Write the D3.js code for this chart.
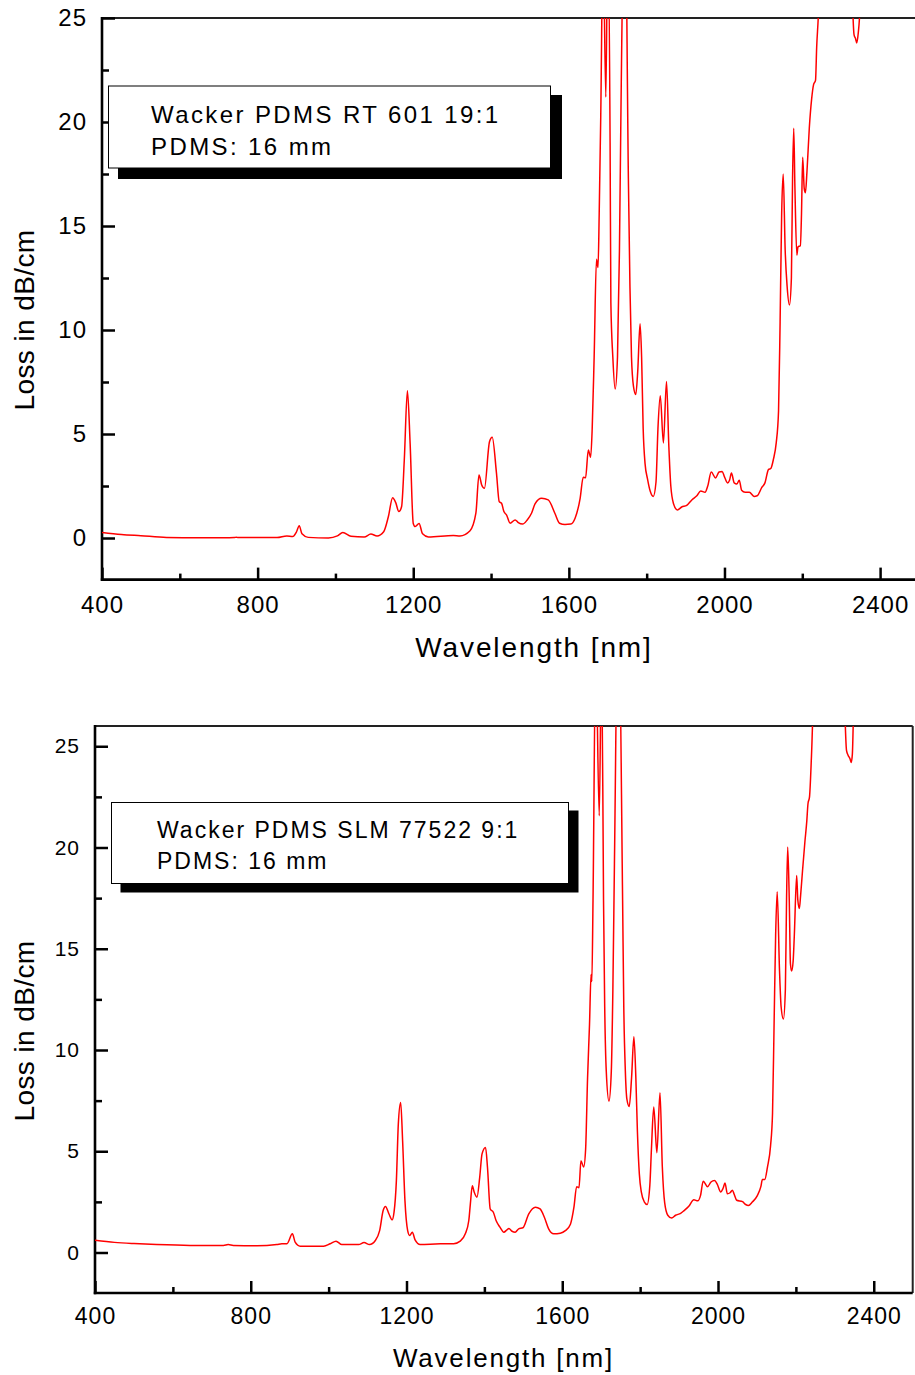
<!DOCTYPE html>
<html>
<head>
<meta charset="utf-8">
<script src="https://cdn.jsdelivr.net/npm/d3@7"></script>
<style>
  body { margin: 0; background: #fff; }
  svg { display: block; }
  text { font-family: "Liberation Sans", Arial, Helvetica, sans-serif; fill: #000; }
</style>
</head>
<body>
<svg id="chart" width="915" height="1375"></svg>
<script>
// ---------- DATA ----------
// Panel 1: Wacker PDMS RT 601 19:1
const wavelength1 = [400,450,500,566,650,740,745,750,850,875,890,900,907,914,930,982,1005,1019,1040,1074,1091,1107,1124,1136,1147,1155,1163,1170,1177,1185,1192,1200,1205,1215,1224,1239,1303,1320,1346,1361,1369,1376,1383,1396,1403,1414,1421,1427,1433,1440,1449,1462,1470,1481,1493,1504,1513,1530,1547,1564,1576,1590,1605,1616,1629,1637,1643,1650,1656,1660,1665,1671,1675,1678,1682,1688,1695,1700,1706,1708,1713,1719,1725,1730,1734,1744,1753,1757,1761,1766,1772,1777,1783,1787,1791,1796,1802,1809,1817,1824,1829,1835,1843,1851,1857,1862,1869,1879,1890,1903,1916,1929,1939,1950,1957,1966,1977,1986,1994,2000,2008,2013,2018,2025,2032,2038,2044,2053,2064,2076,2084,2096,2104,2113,2119,2126,2133,2139,2143,2147,2151,2156,2161,2167,2172,2175,2178,2181,2186,2189,2195,2198,2201,2205,2208,2212,2218,2224,2229,2234,2237,2241,2250,2300,2325,2333,2337,2340,2344,2347,2355,2400,2500];
const loss1 = [0.27,0.17,0.11,0.03,0.01,0.02,0.04,0.02,0.02,0.1,0.07,0.3,0.59,0.2,0.03,0.0,0.1,0.26,0.08,0.05,0.19,0.1,0.3,1.02,1.94,1.7,1.27,1.5,3.75,7.08,4.55,0.7,0.55,0.7,0.2,0.05,0.12,0.1,0.35,1.19,3.03,2.55,2.39,4.63,4.84,3.11,1.75,1.67,1.27,1.1,0.71,0.87,0.74,0.67,0.87,1.19,1.64,1.91,1.83,1.19,0.71,0.65,0.67,0.95,1.91,2.92,2.9,4.23,3.88,5.26,8.7,13.4,13.0,15.6,20.3,29,21.2,29,19,11.3,8.7,7.16,8.7,13.8,20.7,32,17.3,12.1,8.7,7.3,6.9,8.0,10.3,8.7,5.26,3.55,2.86,2.26,2.0,2.69,5.26,6.84,4.57,7.53,4.4,2.51,1.65,1.35,1.49,1.57,1.83,2.03,2.26,2.2,2.5,3.17,2.89,3.17,3.2,2.94,2.65,2.78,3.12,2.65,2.6,2.78,2.3,2.2,2.2,2.0,2.03,2.43,2.65,3.29,3.34,3.8,4.57,6.12,10.4,15.6,17.5,13.85,12.1,11.2,12.5,17.3,19.7,16.9,13.6,14.0,14.05,15.6,18.3,16.8,16.6,17.6,19.7,21.1,21.8,22.0,23.6,25,30,34,28,24.2,24.0,23.8,24.3,25,30,35,40];

// Panel 2: Wacker PDMS SLM 77522 9:1
const wavelength2 = [400,450,500,558,644,730,742,755,816,867,880,893,907,914,927,987,1004,1019,1034,1077,1091,1105,1120,1131,1140,1146,1155,1163,1168,1174,1179,1185,1190,1196,1203,1208,1215,1222,1235,1287,1321,1338,1351,1360,1364,1369,1374,1381,1388,1394,1403,1408,1415,1423,1430,1440,1450,1458,1463,1471,1479,1488,1499,1514,1531,1543,1554,1565,1578,1595,1608,1621,1630,1637,1643,1648,1655,1660,1665,1670,1674,1676,1679,1686,1695,1701,1706,1709,1713,1720,1726,1730,1734,1744,1755,1758,1762,1766,1772,1778,1784,1789,1793,1798,1803,1811,1818,1825,1829,1835,1843,1851,1857,1863,1871,1881,1891,1904,1913,1925,1938,1948,1955,1962,1973,1982,1991,1998,2007,2013,2018,2024,2031,2037,2041,2048,2063,2071,2078,2088,2101,2110,2114,2120,2127,2135,2140,2144,2148,2152,2158,2162,2168,2173,2176,2179,2183,2186,2189,2193,2196,2202,2205,2209,2212,2217,2223,2228,2231,2235,2240,2250,2300,2322,2330,2334,2339,2342,2345,2352,2400,2500];
const loss2 = [0.6,0.5,0.44,0.39,0.35,0.35,0.39,0.35,0.33,0.39,0.43,0.43,0.92,0.51,0.31,0.31,0.43,0.56,0.39,0.39,0.49,0.39,0.59,1.08,2.07,2.27,1.9,1.61,1.99,3.55,6.35,7.41,5.52,2.56,1.08,0.84,1.0,0.62,0.39,0.43,0.43,0.56,0.92,1.58,2.4,3.3,2.97,2.73,3.71,4.87,5.19,4.2,2.15,1.99,1.58,1.25,1.0,1.12,1.18,1.05,1.0,1.17,1.22,1.91,2.24,2.15,1.74,1.17,0.92,0.95,1.08,1.4,2.24,3.25,3.2,4.53,4.22,5.1,8.63,11.26,13.73,13.38,17.4,30,21.57,30,17.4,12.15,8.97,7.48,8.97,13.0,19.2,33,17.4,12.15,8.97,7.57,7.21,8.63,10.65,8.63,5.98,3.87,2.99,2.49,2.37,3.34,5.1,7.18,4.93,7.89,4.22,2.46,1.84,1.7,1.84,1.93,2.07,2.28,2.6,2.55,2.81,3.52,3.25,3.48,3.55,3.38,2.99,3.17,3.43,2.9,2.95,3.08,2.9,2.58,2.51,2.37,2.32,2.49,2.81,3.25,3.6,3.6,4.22,5.28,6.86,11.26,15.67,17.82,13.9,12.15,11.53,13.0,17.4,20.03,17.4,14.26,13.9,14.4,15.67,18.62,17.4,16.99,17.6,18.84,20.25,21.3,22.15,22.5,24.5,30,34,29,24.8,24.56,24.38,24.2,24.6,30,35,40];

const xTicks = [400, 800, 1200, 1600, 2000, 2400];
const xMinorTicks = [600, 1000, 1400, 1800, 2200];
const yTicks = [0, 5, 10, 15, 20, 25];
const yMinorTicks = [2.5, 7.5, 12.5, 17.5, 22.5];
const legend1 = ["Wacker PDMS RT 601 19:1", "PDMS: 16 mm"];
const legend2 = ["Wacker PDMS SLM 77522 9:1", "PDMS: 16 mm"];
const xTitle = "Wavelength [nm]";
const yTitle = "Loss in dB/cm";

// ---------- DRAWING ----------
const svg = d3.select("#chart");

function drawPanel(p) {
  const g = svg.append("g");
  const x = d3.scaleLinear().domain([400, 2500]).range([p.left, p.right]);
  const y = d3.scaleLinear().domain(p.yDomain).range([p.bottom, p.top]);

  const clipId = "clip" + p.id;
  svg.append("clipPath").attr("id", clipId)
    .append("rect").attr("x", p.left).attr("y", p.top)
    .attr("width", p.right - p.left).attr("height", p.bottom - p.top);

  // frame (top/right)
  g.append("line").attr("x1", p.left).attr("x2", p.right).attr("y1", p.top).attr("y2", p.top)
    .attr("stroke", "#222").attr("stroke-width", 2);
  g.append("line").attr("x1", p.right).attr("x2", p.right).attr("y1", p.top).attr("y2", p.bottom)
    .attr("stroke", "#222").attr("stroke-width", 2);

  // y axis
  const yMajor = d3.axisLeft(y).tickValues(yTicks).tickSize(-13).tickPadding(p.yPad).tickFormat(d3.format("d"));
  const yMin = d3.axisLeft(y).tickValues(yMinorTicks).tickSize(-7).tickFormat("");
  const ga = g.append("g").attr("transform", `translate(${p.left},0)`).call(yMajor);
  g.append("g").attr("transform", `translate(${p.left},0)`).call(yMin);
  // x axis
  const xMajor = d3.axisBottom(x).tickValues(xTicks).tickSize(-12).tickPadding(p.xPad).tickFormat(d3.format("d"));
  const xMin = d3.axisBottom(x).tickValues(xMinorTicks).tickSize(-6).tickFormat("");
  const gb = g.append("g").attr("transform", `translate(0,${p.bottom})`).call(xMajor);
  g.append("g").attr("transform", `translate(0,${p.bottom})`).call(xMin);

  g.selectAll(".domain").remove();
  g.selectAll(".tick line").attr("stroke", "#000").attr("stroke-width", 2.5);
  ga.selectAll("text").style("font-size", p.yFont + "px").style("letter-spacing", "1px");
  gb.selectAll("text").style("font-size", p.xFont + "px").style("letter-spacing", "1px");

  // axis lines
  g.append("line").attr("x1", p.left).attr("x2", p.left).attr("y1", p.top - 1).attr("y2", p.bottom + 1.2)
    .attr("stroke", "#000").attr("stroke-width", 2.6);
  g.append("line").attr("x1", p.left - 1.2).attr("x2", p.right).attr("y1", p.bottom).attr("y2", p.bottom)
    .attr("stroke", "#000").attr("stroke-width", 2.6);

  // curve
  const pts = p.wl.map((w, i) => [w, p.loss[i]]);
  const line = d3.line().x(d => x(d[0])).y(d => y(d[1])).curve(d3.curveMonotoneX);
  g.append("path").datum(pts).attr("d", line)
    .attr("clip-path", `url(#${clipId})`)
    .attr("fill", "none").attr("stroke", "#ff0000").attr("stroke-width", 1.5)
    .attr("stroke-linejoin", "round");

  // legend box with shadow
  const L = p.legend;
  g.append("rect").attr("x", L.sx).attr("y", L.sy).attr("width", L.sw).attr("height", L.sh).attr("fill", "#000");
  g.append("rect").attr("x", L.x).attr("y", L.y).attr("width", L.w).attr("height", L.h)
    .attr("fill", "#fff").attr("stroke", "#000").attr("stroke-width", 1);
  L.lines.forEach((t, i) => {
    g.append("text").attr("x", L.tx).attr("y", L.ty[i]).text(t)
      .style("font-size", L.font + "px").style("letter-spacing", L.ls + "px");
  });

  // titles
  g.append("text").attr("x", p.xtX).attr("y", p.xtY).attr("text-anchor", "middle")
    .style("font-size", p.xtFont + "px").style("letter-spacing", p.xtLs + "px").text(xTitle);
  g.append("text").attr("transform", `translate(${p.ytX},${p.ytY}) rotate(-90)`).attr("text-anchor", "middle")
    .style("font-size", "28px").style("letter-spacing", "0.4px").text(yTitle);
}

drawPanel({
  id: 1, left: 102, right: 919, top: 18, bottom: 579.6, yDomain: [-2, 25],
  wl: wavelength1, loss: loss1, yPad: 15, xPad: 16, yFont: 24, xFont: 24,
  legend: { x: 108.5, y: 86, w: 442, h: 82, sx: 118, sy: 95, sw: 444, sh: 84,
            tx: 151, ty: [122.5, 154.5], font: 24, ls: 2.4, lines: legend1 },
  xtX: 534, xtY: 657, xtFont: 28, xtLs: 1.9, ytX: 34, ytY: 320
});

drawPanel({
  id: 2, left: 95, right: 912.7, top: 726, bottom: 1293, yDomain: [-2, 26],
  wl: wavelength2, loss: loss2, yPad: 15, xPad: 14.5, yFont: 21, xFont: 23,
  legend: { x: 111.5, y: 802.5, w: 457, h: 81, sx: 120.5, sy: 810.5, sw: 458, sh: 82,
            tx: 157, ty: [838, 869], font: 23, ls: 2, lines: legend2 },
  xtX: 503.5, xtY: 1367, xtFont: 26, xtLs: 1.8, ytX: 34, ytY: 1031
});
</script>
</body>
</html>
